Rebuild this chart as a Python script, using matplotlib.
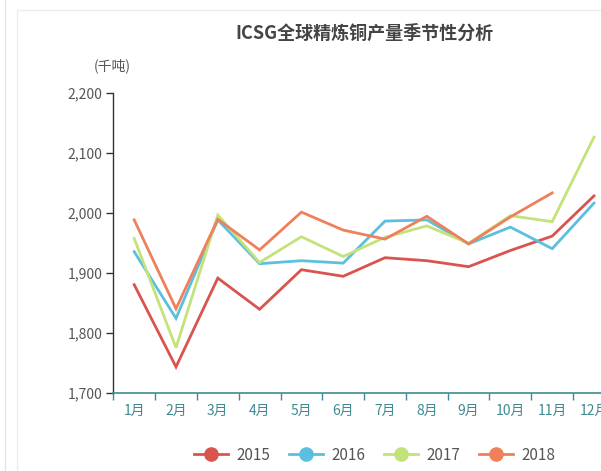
import matplotlib.pyplot as plt
from matplotlib.lines import Line2D
from matplotlib.patches import Rectangle
from matplotlib.ticker import FuncFormatter

plt.rcParams['font.family'] = ['Noto Sans CJK SC', 'DejaVu Sans']

months = ["1月", "2月", "3月", "4月", "5月", "6月", "7月", "8月", "9月", "10月", "11月", "12月"]
y2015 = [1880, 1743, 1891, 1839, 1905, 1894, 1925, 1920, 1910, 1937, 1961, 2028]
y2016 = [1935, 1824, 1988, 1915, 1920, 1916, 1986, 1988, 1948, 1976, 1940, 2016]
y2017 = [1957, 1775, 1996, 1917, 1960, 1927, 1959, 1978, 1949, 1995, 1985, 2126]
y2018 = [1988, 1840, 1989, 1938, 2001, 1971, 1956, 1994, 1948, 1993, 2033]
years = ["2015", "2016", "2017", "2018"]
colors = ["#d9534f", "#5bc0de", "#c4e27a", "#f0805a"]

W, H = 601, 471
fig = plt.figure(figsize=(W / 100, H / 100), dpi=100)

# panel frames
fig.add_artist(Line2D([5 / W, 5 / W], [0, 1], color="#e6e6e6", lw=1))
fig.add_artist(Rectangle((17 / W, -0.1), 1.2, 1 - 10 / H + 0.1, transform=fig.transFigure,
                         fill=False, edgecolor="#ececec", lw=1))

left, right = 113.3, 113.3 + 12 * 41.8
top, bottom = 92.7, 392.7
ax = fig.add_axes([left / W, 1 - bottom / H, (right - left) / W, (bottom - top) / H])

x = list(range(12))
for vals, c in zip([y2015, y2016, y2017, y2018], colors):
    ax.plot(x[:len(vals)], vals, color=c, lw=2, solid_joinstyle="miter")

ax.set_xlim(-0.5, 11.5)
ax.set_ylim(1700, 2200)
ax.set_yticks([1700, 1800, 1900, 2000, 2100, 2200])
ax.yaxis.set_major_formatter(FuncFormatter(lambda v, p: f"{int(v):,}"))
ax.set_xticks([i + 0.5 for i in range(-1, 12)], minor=False)
ax.set_xticklabels([])
ax.set_xticks(x, minor=True)
ax.set_xticklabels(months, minor=True)
ax.tick_params(axis="x", which="major", length=5, width=1, color="#3f8a91", direction="out")
ax.tick_params(axis="x", which="minor", length=0, labelsize=10, labelcolor="#3f8a91", pad=8)
ax.tick_params(axis="y", length=5, width=1, color="#333333", labelsize=10, labelcolor="#555555", pad=3)

for s in ["top", "right"]:
    ax.spines[s].set_visible(False)
ax.spines["left"].set_color("#333333")
ax.spines["bottom"].set_color("#3f8a91")
ax.spines["left"].set_linewidth(1)
ax.spines["bottom"].set_linewidth(1.2)

fig.text(364 / W, 1 - 33 / H, "ICSG全球精炼铜产量季节性分析", ha="center", va="center",
         fontsize=13, fontweight="bold", color="#444444")
fig.text(112 / W, 1 - 66 / H, "(千吨)", ha="center", va="center", fontsize=10, color="#555555")

handles = [Line2D([0], [0], color=c, lw=2, marker="o", markersize=9.5,
                  markerfacecolor=c, markeredgecolor=c) for c in colors]
leg = fig.legend(handles, years, loc="center", bbox_to_anchor=(375 / W, 1 - 455 / H), ncol=4,
                 frameon=False, fontsize=11, handlelength=2.2, columnspacing=1.2, handletextpad=0.6)
for t in leg.get_texts():
    t.set_color("#555555")

fig.savefig("out.png", dpi=100)
